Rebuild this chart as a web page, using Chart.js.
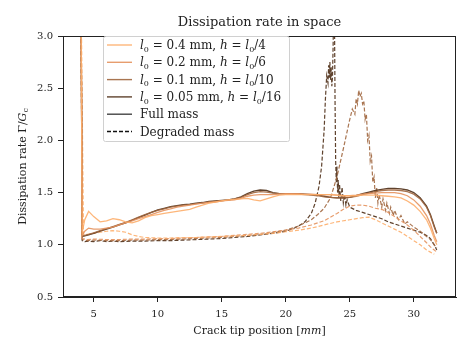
<!DOCTYPE html>
<html>
<head>
<meta charset="utf-8">
<script src="https://cdn.jsdelivr.net/npm/chart.js@4.4.1/dist/chart.umd.min.js"></script>
<style>
  html, body { margin: 0; padding: 0; background: #fff; }
  #wrap { width: 473px; height: 355px; }
</style>
</head>
<body>
<div id="wrap"><canvas id="dissipationChart"></canvas></div>
<script>
// mesh settings (legend text)
const lengthScales = ["0.4", "0.2", "0.1", "0.05"];
const meshRatios = ["4", "6", "10", "16"];
const seriesColors = ["rgba(253,174,107,0.9)", "rgba(228,146,94,0.9)", "rgba(160,102,62,0.9)", "rgba(78,45,22,0.9)"];

const xTicks = [5, 10, 15, 20, 25, 30];
const yTicks = [0.5, 1.0, 1.5, 2.0, 2.5, 3.0];

// full mass: shared crack tip positions [mm]
const fullX = [4.0, 4.1, 4.3, 4.6, 5.0, 5.5, 6, 6.5, 7, 7.5, 8, 8.5, 9, 9.5, 10, 10.5, 11, 11.5, 12, 12.5,
  13, 13.5, 14, 14.5, 15, 15.5, 16, 16.5, 17, 17.5, 18, 18.5, 19, 19.5, 20, 20.5, 21, 21.5, 22, 22.5,
  23, 23.5, 24, 24.5, 25, 25.5, 26, 26.5, 27, 27.5, 28, 28.5, 29, 29.5, 30, 30.5, 31, 31.3, 31.6, 31.8];

const full04 = [3.6, 1.12, 1.24, 1.32, 1.27, 1.22, 1.23, 1.25, 1.24, 1.22, 1.21, 1.23, 1.26, 1.28, 1.29, 1.30, 1.31, 1.32, 1.33, 1.34,
  1.36, 1.38, 1.40, 1.41, 1.42, 1.43, 1.435, 1.44, 1.445, 1.43, 1.42, 1.44, 1.46, 1.475, 1.48, 1.48, 1.48, 1.48, 1.48, 1.48,
  1.48, 1.48, 1.475, 1.47, 1.47, 1.47, 1.475, 1.475, 1.475, 1.47, 1.465, 1.46, 1.45, 1.42, 1.38, 1.32, 1.24, 1.16, 1.06, 1.0];
const full02 = [3.6, 1.09, 1.13, 1.16, 1.15, 1.15, 1.16, 1.17, 1.19, 1.21, 1.23, 1.25, 1.27, 1.29, 1.31, 1.33, 1.345, 1.36, 1.37, 1.38,
  1.39, 1.40, 1.405, 1.41, 1.42, 1.425, 1.43, 1.445, 1.465, 1.475, 1.48, 1.48, 1.48, 1.485, 1.49, 1.49, 1.49, 1.485, 1.485, 1.48,
  1.48, 1.48, 1.475, 1.47, 1.47, 1.475, 1.485, 1.49, 1.495, 1.50, 1.50, 1.50, 1.49, 1.47, 1.43, 1.37, 1.28, 1.20, 1.09, 1.03];
const full01 = [3.6, 1.08, 1.09, 1.10, 1.115, 1.135, 1.155, 1.175, 1.195, 1.215, 1.24, 1.265, 1.29, 1.31, 1.33, 1.345, 1.36, 1.37, 1.38, 1.385,
  1.395, 1.40, 1.41, 1.415, 1.42, 1.43, 1.44, 1.455, 1.48, 1.50, 1.51, 1.505, 1.495, 1.49, 1.49, 1.49, 1.485, 1.48, 1.475, 1.47,
  1.46, 1.455, 1.45, 1.45, 1.455, 1.465, 1.48, 1.495, 1.51, 1.52, 1.525, 1.525, 1.52, 1.51, 1.485, 1.44, 1.36, 1.28, 1.17, 1.11];
const full005 = [3.6, 1.08, 1.085, 1.095, 1.11, 1.13, 1.15, 1.17, 1.19, 1.21, 1.235, 1.26, 1.285, 1.31, 1.335, 1.35, 1.365, 1.375, 1.385, 1.39,
  1.40, 1.405, 1.415, 1.42, 1.425, 1.43, 1.44, 1.46, 1.49, 1.515, 1.525, 1.52, 1.50, 1.49, 1.49, 1.49, 1.49, 1.485, 1.48, 1.475,
  1.465, 1.455, 1.45, 1.45, 1.455, 1.47, 1.49, 1.505, 1.52, 1.53, 1.54, 1.54, 1.535, 1.525, 1.50, 1.45, 1.37, 1.29, 1.18, 1.11];

// degraded mass
const degX04 = [4.0, 4.2, 4.5, 5, 5.5, 6, 6.5, 7, 7.5, 8, 8.5, 9, 10, 11, 12, 13, 14, 15, 16, 17, 18, 19, 20, 21, 22, 23, 24, 25, 26,
  26.5, 27, 27.5, 28, 28.5, 29, 29.5, 30, 30.5, 31, 31.3, 31.6];
const deg04 = [3.6, 1.10, 1.10, 1.11, 1.12, 1.13, 1.135, 1.13, 1.12, 1.095, 1.08, 1.07, 1.065, 1.065, 1.07, 1.07, 1.075, 1.08, 1.085, 1.09, 1.10, 1.11, 1.125, 1.14, 1.16, 1.19, 1.22, 1.24, 1.26,
  1.265, 1.24, 1.21, 1.18, 1.15, 1.12, 1.08, 1.04, 1.0, 0.95, 0.93, 0.91];

const degX02 = [4.0, 4.1, 4.5, 5, 6, 7, 8, 9, 10, 11, 12, 13, 14, 15, 16, 17, 18, 19, 20, 21, 22, 23, 24, 24.5, 25, 25.5, 26,
  26.5, 27, 27.5, 28, 28.5, 29, 29.5, 30, 30.5, 31, 31.3, 31.6, 31.8];
const deg02 = [3.6, 1.06, 1.05, 1.055, 1.05, 1.05, 1.055, 1.055, 1.06, 1.06, 1.065, 1.07, 1.075, 1.08, 1.09, 1.10, 1.11, 1.125, 1.14, 1.16, 1.19, 1.23, 1.30, 1.34, 1.37, 1.38, 1.38,
  1.37, 1.35, 1.34, 1.31, 1.27, 1.23, 1.19, 1.14, 1.08, 1.02, 0.98, 0.95, 0.93];

const degX01 = [4.0, 4.1, 4.5, 5, 6, 7, 8, 9, 10, 11, 12, 13, 14, 15, 16, 17, 18, 19, 20, 21, 22, 22.5, 23, 23.5, 24, 24.5, 25,
  25.2, 25.4, 25.5, 25.6, 25.7, 25.8, 25.9, 26.0, 26.1, 26.2, 26.3, 26.4, 26.5, 26.6, 26.7, 26.8, 26.9, 27.0, 27.1, 27.2, 27.3,
  27.5, 27.6, 27.8, 27.9, 28.1, 28.2, 28.4, 28.5, 28.8, 29, 29.3, 29.5, 30, 30.5, 31, 31.3, 31.6, 31.8];
const deg01 = [3.6, 1.05, 1.04, 1.045, 1.04, 1.04, 1.045, 1.045, 1.05, 1.05, 1.055, 1.06, 1.065, 1.07, 1.08, 1.09, 1.10, 1.12, 1.14, 1.18, 1.24, 1.29, 1.35, 1.45, 1.65, 1.92, 2.2,
  2.3, 2.25, 2.4, 2.35, 2.48, 2.42, 2.45, 2.35, 2.38, 2.2, 2.25, 2.0, 2.05, 1.8, 1.85, 1.6, 1.65, 1.45, 1.55, 1.40, 1.48,
  1.36, 1.44, 1.33, 1.40, 1.30, 1.36, 1.28, 1.33, 1.24, 1.28, 1.20, 1.22, 1.17, 1.13, 1.08, 1.05, 1.0, 0.97];

const degX005 = [4.0, 4.1, 4.3, 4.6, 5, 5.5, 6, 6.5, 7, 8, 9, 10, 11, 12, 13, 14, 15, 16, 17, 18, 19, 20, 20.5, 21, 21.5, 22, 22.3,
  22.6, 22.8, 23.0, 23.1, 23.2, 23.3, 23.35, 23.4, 23.45, 23.5, 23.55, 23.6, 23.65, 23.7, 23.75, 23.8, 23.85, 23.9, 23.95,
  24.0, 24.05, 24.1, 24.15, 24.2, 24.3, 24.4, 24.5, 24.6, 24.7, 24.8, 25.0, 25.5, 26, 26.5, 27, 27.5, 28, 28.5, 29, 29.5,
  30, 30.5, 31, 31.3, 31.6, 31.8];
const deg005 = [3.6, 1.04, 1.03, 1.035, 1.03, 1.04, 1.03, 1.035, 1.03, 1.035, 1.035, 1.04, 1.04, 1.045, 1.05, 1.055, 1.06, 1.07, 1.08, 1.095, 1.11, 1.13, 1.15, 1.18, 1.22, 1.30, 1.40,
  1.56, 1.75, 2.1, 2.4, 2.62, 2.55, 2.72, 2.6, 2.75, 2.58, 2.7, 2.52, 2.6, 2.9, 3.3, 3.3, 2.4, 1.8, 1.6,
  1.75, 1.5, 1.62, 1.45, 1.58, 1.42, 1.55, 1.40, 1.48, 1.38, 1.43, 1.36, 1.33, 1.31, 1.29, 1.27, 1.25, 1.22, 1.20, 1.18, 1.16,
  1.14, 1.12, 1.09, 1.06, 1.0, 0.95];

const FONT = "'DejaVu Serif', 'Liberation Serif', serif";

function pts(xs, ys) {
  return xs.map((x, i) => ({ x: x, y: ys[i] }));
}

const fullSets = [[fullX, full04], [fullX, full02], [fullX, full01], [fullX, full005]];
const degSets = [[degX04, deg04], [degX02, deg02], [degX01, deg01], [degX005, deg005]];

const datasets = [];
fullSets.forEach((s, i) => {
  datasets.push({
    data: pts(s[0], s[1]),
    borderColor: seriesColors[i],
    borderWidth: 1.3,
    pointRadius: 0,
    tension: 0,
  });
});
degSets.forEach((s, i) => {
  datasets.push({
    data: pts(s[0], s[1]),
    borderColor: seriesColors[i],
    borderWidth: 1.2,
    borderDash: [4, 2],
    pointRadius: 0,
    tension: 0,
  });
});

// parts: [text, kind] where kind is "n" normal, "i" italic, "s" subscript
function partFont(kind, size) {
  if (kind === "i") return "italic " + size + "px " + FONT;
  if (kind === "s") return Math.round(size * 0.7) + "px " + FONT;
  return size + "px " + FONT;
}
function richWidth(ctx, parts, size) {
  let w = 0;
  parts.forEach(p => {
    ctx.font = partFont(p[1], size);
    w += ctx.measureText(p[0]).width;
  });
  return w;
}
function drawRich(ctx, parts, x, y, size) {
  ctx.textBaseline = "alphabetic";
  ctx.textAlign = "left";
  let cx = x;
  parts.forEach(p => {
    ctx.font = partFont(p[1], size);
    const dy = p[1] === "s" ? size * 0.22 : 0;
    ctx.fillText(p[0], cx, y + dy);
    cx += ctx.measureText(p[0]).width;
  });
}

const legendRows = lengthScales.map((l, i) => ({
  color: seriesColors[i],
  dash: [],
  parts: [["l", "i"], ["0", "s"], [" = " + l + " mm, ", "n"], ["h", "i"], [" = ", "n"], ["l", "i"], ["0", "s"], ["/" + meshRatios[i], "n"]],
}));
legendRows.push({ color: "#444", dash: [], parts: [["Full mass", "n"]] });
legendRows.push({ color: "#111", dash: [4, 2], parts: [["Degraded mass", "n"]] });

const decorPlugin = {
  id: "decor",
  afterDraw(chart) {
    const ctx = chart.ctx;
    const a = chart.chartArea;
    ctx.save();
    // frame
    ctx.strokeStyle = "#222";
    ctx.lineWidth = 1;
    ctx.strokeRect(a.left + 0.5, a.top + 0.5, a.right - a.left - 1, a.bottom - a.top - 1);

    ctx.fillStyle = "#222";
    // title
    const title = [["Dissipation rate in space", "n"]];
    const tw = richWidth(ctx, title, 13);
    drawRich(ctx, title, (a.left + a.right) / 2 - tw / 2, 26, 13);

    // x label
    const xl = [["Crack tip position [", "n"], ["mm", "i"], ["]", "n"]];
    const xw = richWidth(ctx, xl, 11);
    drawRich(ctx, xl, (a.left + a.right) / 2 - xw / 2, 334, 11);

    // y label
    const yl = [["Dissipation rate Γ/", "n"], ["G", "i"], ["c", "s"]];
    const yw = richWidth(ctx, yl, 11);
    ctx.save();
    ctx.translate(26, (a.top + a.bottom) / 2);
    ctx.rotate(-Math.PI / 2);
    drawRich(ctx, yl, -yw / 2, 0, 11);
    ctx.restore();

    // legend
    const lx = 103, ly = 36, lw = 186, lh = 105;
    ctx.fillStyle = "rgba(255,255,255,0.85)";
    ctx.strokeStyle = "#d0d0d0";
    ctx.beginPath();
    ctx.roundRect(lx + 0.5, ly + 0.5, lw, lh, 2);
    ctx.fill();
    ctx.stroke();
    legendRows.forEach((r, i) => {
      const yy = 45 + i * 17.3;
      ctx.strokeStyle = r.color;
      ctx.lineWidth = 1.4;
      ctx.setLineDash(r.dash);
      ctx.beginPath();
      ctx.moveTo(107, yy);
      ctx.lineTo(132, yy);
      ctx.stroke();
      ctx.setLineDash([]);
      ctx.fillStyle = "#222";
      drawRich(ctx, r.parts, 140, yy + 4, 12);
    });
    ctx.restore();
  },
};

new Chart(document.getElementById("dissipationChart"), {
  type: "line",
  data: { datasets: datasets },
  options: {
    responsive: true,
    maintainAspectRatio: false,
    animation: false,
    layout: { padding: { top: 36, right: 17, left: 0, bottom: 0 } },
    plugins: {
      legend: { display: false },
      tooltip: { enabled: false },
    },
    scales: {
      x: {
        type: "linear",
        min: 2.6,
        max: 33.3,
        afterFit(scale) { scale.height = 58; },
        afterBuildTicks(scale) { scale.ticks = xTicks.map(v => ({ value: v })); },
        grid: { drawOnChartArea: false, drawTicks: true, tickLength: 5, color: "#222" },
        border: { color: "#222" },
        ticks: { color: "#222", font: { family: FONT, size: 10 }, padding: 6, maxRotation: 0 },
      },
      y: {
        min: 0.5,
        max: 3.0,
        afterFit(scale) { scale.width = 63; },
        afterBuildTicks(scale) { scale.ticks = yTicks.map(v => ({ value: v })); },
        grid: { drawOnChartArea: false, drawTicks: true, tickLength: 5, color: "#222" },
        border: { color: "#222" },
        ticks: {
          color: "#222",
          font: { family: FONT, size: 10 },
          padding: 5,
          callback: v => v.toFixed(1),
        },
      },
    },
  },
  plugins: [decorPlugin],
});
</script>
</body>
</html>
